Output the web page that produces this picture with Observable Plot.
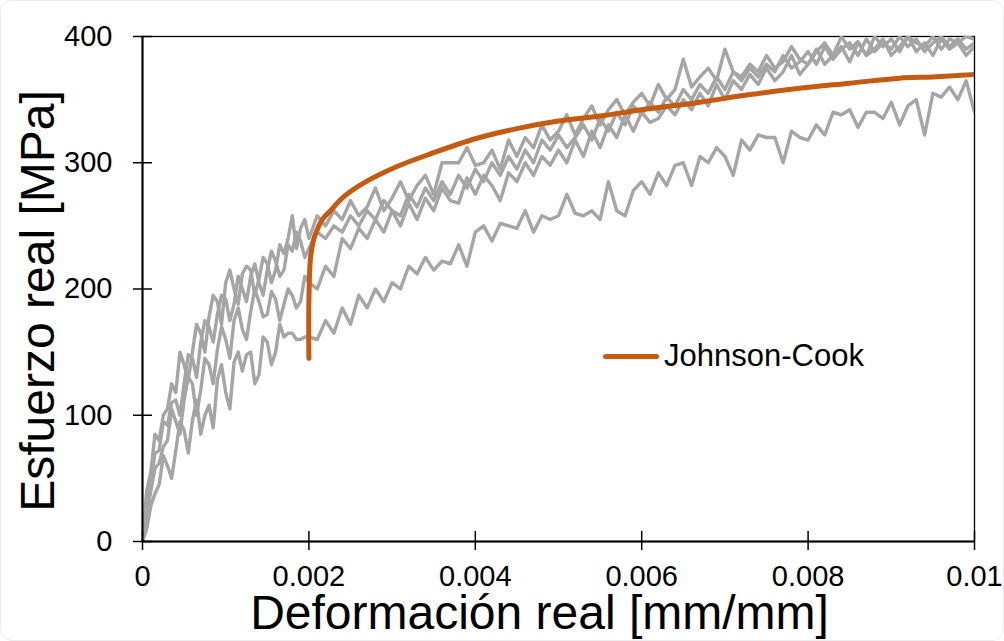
<!DOCTYPE html>
<html>
<head>
<meta charset="utf-8">
<script src="https://cdn.jsdelivr.net/npm/d3@7"></script>
<script src="https://cdn.jsdelivr.net/npm/@observablehq/plot@0.6"></script>
<style>
  body { margin: 0; background: #fff; }
  #chart { position: relative; width: 1004px; height: 641px; font-family: "Liberation Sans", Arial, sans-serif; }
  #border { position: absolute; left: 0; top: 0; width: 1004px; height: 641px; box-sizing: border-box; border: 1px solid #ececec; border-radius: 12px; pointer-events: none; }
  #legend { position: absolute; left: 603px; top: 339px; height: 34px; display: flex; align-items: center; font-size: 31px; line-height: 34px; color: #000; white-space: nowrap; }
  #legend .sw { width: 56px; height: 5px; background: #C55A11; border-radius: 3px; margin-right: 5px; }
</style>
</head>
<body>
<div id="chart">
  <div id="border"></div>
  <div id="legend"><span class="sw"></span><span id="legtext"></span></div>
</div>
<script>
// ---- data ----
const strain = [
  0, 0.00005, 0.0001, 0.00015, 0.0002, 0.00025, 0.0003, 0.00035, 0.0004, 0.00045,
  0.0005, 0.00055, 0.0006, 0.00065, 0.0007, 0.00075, 0.0008, 0.00085, 0.0009, 0.00095,
  0.0010, 0.00105, 0.0011, 0.00115, 0.0012, 0.00125, 0.0013, 0.00135, 0.0014, 0.00145,
  0.0015, 0.00155, 0.0016, 0.00165, 0.0017, 0.00175, 0.0018, 0.00185, 0.0019, 0.00195,
  0.0020,
  0.0021, 0.0022, 0.0023, 0.0024, 0.0025, 0.0026, 0.0027, 0.0028, 0.0029,
  0.0030, 0.0031, 0.0032, 0.0033, 0.0034, 0.0035, 0.0036, 0.0037, 0.0038, 0.0039,
  0.0040, 0.0041, 0.0042, 0.0043, 0.0044, 0.0045, 0.0046, 0.0047, 0.0048, 0.0049,
  0.0050, 0.0051, 0.0052, 0.0053, 0.0054, 0.0055, 0.0056, 0.0057, 0.0058, 0.0059,
  0.0060, 0.0061, 0.0062, 0.0063, 0.0064, 0.0065, 0.0066, 0.0067, 0.0068, 0.0069,
  0.0070, 0.0071, 0.0072, 0.0073, 0.0074, 0.0075, 0.0076, 0.0077, 0.0078, 0.0079,
  0.0080, 0.0081, 0.0082, 0.0083, 0.0084, 0.0085, 0.0086, 0.0087, 0.0088, 0.0089,
  0.0090, 0.0091, 0.0092, 0.0093, 0.0094, 0.0095, 0.0096, 0.0097, 0.0098, 0.0099,
  0.0100
];
const stressTest1 = [
  0, 10, 28, 38, 45, 68, 60, 50, 72, 95,
  88, 70, 96, 112, 85, 100, 108, 90, 128, 140,
  118, 105, 142, 150, 135, 148, 150, 125, 132, 162,
  158, 140, 150, 172, 162, 165, 165, 160, 160, 162,
  162,
  160, 175, 165, 185, 172, 195, 185, 200, 190,
  205, 200, 218, 212, 225, 215, 222, 220, 235, 218,
  245, 250, 238, 252, 250, 248, 262, 245, 258, 255,
  258, 275, 260, 258, 262, 255, 285, 262, 258, 278,
  285, 275, 292, 282, 298, 300, 282, 305, 300, 312,
  305, 290, 318, 310, 322, 320, 320, 300, 325, 320,
  318, 330, 322, 340, 338, 342, 328, 340, 340, 335,
  348, 330, 345, 350, 322, 355, 352, 360, 350, 365,
  340
];
const stressTest2 = [
  0, 40, 55, 85, 80, 100, 105, 125, 118, 150,
  140, 128, 150, 172, 165, 150, 178, 195, 190, 172,
  205, 215, 200, 188, 212, 218, 215, 195, 208, 225,
  220, 205, 215, 235, 228, 240, 258, 232, 248, 255,
  240,
  258, 250, 262, 255, 270, 258, 265, 280, 262,
  272, 285, 270, 282, 290, 275, 300, 300, 300, 312,
  298, 300, 310, 295, 318, 305, 320, 312, 330, 318,
  325, 338, 322, 335, 345, 330, 342, 350, 338, 348,
  355, 345, 362, 350, 358, 382, 360, 368, 375, 365,
  390, 372, 368, 378, 372, 385, 375, 380, 392, 382,
  378, 388, 395, 385, 400, 390, 396, 385, 400, 392,
  398, 388, 400, 395, 392, 400, 390, 398, 395, 400,
  398
];
const stressTest3 = [
  0, 20, 40, 58, 62, 75, 80, 105, 95, 85,
  112, 130, 125, 100, 120, 145, 140, 125, 152, 170,
  160, 145, 175, 185, 168, 160, 182, 200, 190, 178,
  180, 198, 192, 175, 188, 200, 195, 185, 190, 210,
  205,
  200, 218, 210, 240, 232, 248, 240, 255, 245,
  262, 250, 268, 255, 272, 262, 280, 270, 268, 288,
  275, 290, 282, 270, 292, 285, 300, 290, 305, 298,
  310, 300, 318, 305, 325, 312, 330, 320, 338, 325,
  340, 332, 335, 345, 338, 350, 342, 355, 345, 362,
  350, 365, 358, 370, 362, 375, 365, 372, 385, 370,
  378, 390, 378, 385, 392, 380, 395, 385, 390, 398,
  385, 392, 400, 388, 395, 385, 398, 390, 395, 385,
  392
];
const stressTest4 = [
  0, 30, 48, 70, 72, 95, 92, 110, 112, 100,
  125, 148, 145, 130, 158, 175, 170, 158, 180, 195,
  192, 175, 188, 210, 200, 190, 210, 220, 205, 195,
  215, 230, 222, 210, 215, 235, 230, 245, 238, 225,
  232,
  245, 240, 250, 245, 258, 250, 262, 255, 270,
  262, 258, 275, 265, 280, 270, 285, 275, 290, 280,
  295, 285, 300, 290, 305, 295, 310, 300, 318, 310,
  322, 312, 320, 330, 318, 335, 325, 340, 330, 345,
  338, 348, 340, 352, 345, 358, 350, 362, 355, 368,
  358, 372, 365, 375, 368, 378, 372, 385, 375, 380,
  388, 378, 392, 382, 390, 395, 385, 398, 388, 395,
  390, 400, 392, 398, 388, 395, 400, 392, 398, 390,
  395
];
// Johnson-Cook model curve
const jcStrain = [0.002, 0.002, 0.00202, 0.00206, 0.0021, 0.00216, 0.00226, 0.0024, 0.00266, 0.00306,
                  0.00346, 0.004, 0.0045, 0.005, 0.0055, 0.006, 0.0067, 0.0073, 0.0079, 0.0085, 0.0091, 0.0095, 0.01];
const jcStress = [145, 190, 225, 240, 247, 255, 262, 272, 284, 297,
                  307, 319, 327, 333, 337, 342, 348, 354, 359, 363, 367, 368, 370];

const xTicks = [0, 0.002, 0.004, 0.006, 0.008, 0.01];
const xTickLabels = ["0", "0.002", "0.004", "0.006", "0.008", "0.01"];
const yTicks = [0, 100, 200, 300, 400];
const xTitle = "Deformación real [mm/mm]";
const yTitle = "Esfuerzo real [MPa]";
const legendLabel = "Johnson-Cook";

// ---- build tables ----
const tests = [stressTest1, stressTest2, stressTest3, stressTest4];
const expRows = [];
tests.forEach((arr, k) => arr.forEach((s, i) => expRows.push({run: "Ensayo " + (k + 1), strain: strain[i], stress: s})));
const jcRows = jcStrain.map((e, i) => ({strain: e, stress: jcStress[i]}));

const chart = Plot.plot({
  width: 1004,
  height: 641,
  marginLeft: 142,
  marginRight: 30,
  marginTop: 36,
  marginBottom: 100,
  style: {fontFamily: "'Liberation Sans', Arial, sans-serif", fontSize: "29px", color: "#000", background: "transparent", overflow: "visible"},
  x: {domain: [0, 0.01]},
  y: {domain: [0, 400]},
  marks: [
    Plot.frame({stroke: "#000", strokeWidth: 1.3}),
    Plot.line(expRows, {x: "strain", y: "stress", z: "run", stroke: "#A5A5A5", strokeWidth: 3.4, strokeLinejoin: "round", clip: true}),
    Plot.line(jcRows, {x: "strain", y: "stress", stroke: "#C55A11", strokeWidth: 5, strokeLinecap: "round", curve: "catmull-rom", clip: true}),
    Plot.ruleX([0], {stroke: "#000", strokeWidth: 2}),
    Plot.ruleY([0], {stroke: "#000", strokeWidth: 2}),
    Plot.axisY(yTicks, {tickSize: 19, dx: 10, tickPadding: 21, label: null, stroke: "#000", strokeWidth: 1.5, fontSize: 29}),
    Plot.axisX(xTicks, {tickSize: 19, dy: -10, tickPadding: 15, label: null, stroke: "#000", strokeWidth: 1.5, fontSize: 29,
      tickFormat: d => xTickLabels[xTicks.indexOf(d)]}),
    Plot.text([yTitle], {text: d => d, frameAnchor: "left", dx: -104, dy: 12, rotate: -90, textAnchor: "middle", lineAnchor: "middle", fontSize: 48, fill: "#000"}),
    Plot.text([xTitle], {text: d => d, frameAnchor: "bottom", dx: -19, dy: 72, textAnchor: "middle", lineAnchor: "middle", fontSize: 48, fill: "#000"})
  ]
});
document.getElementById("chart").prepend(chart);
document.getElementById("legtext").textContent = legendLabel;
</script>
</body>
</html>
